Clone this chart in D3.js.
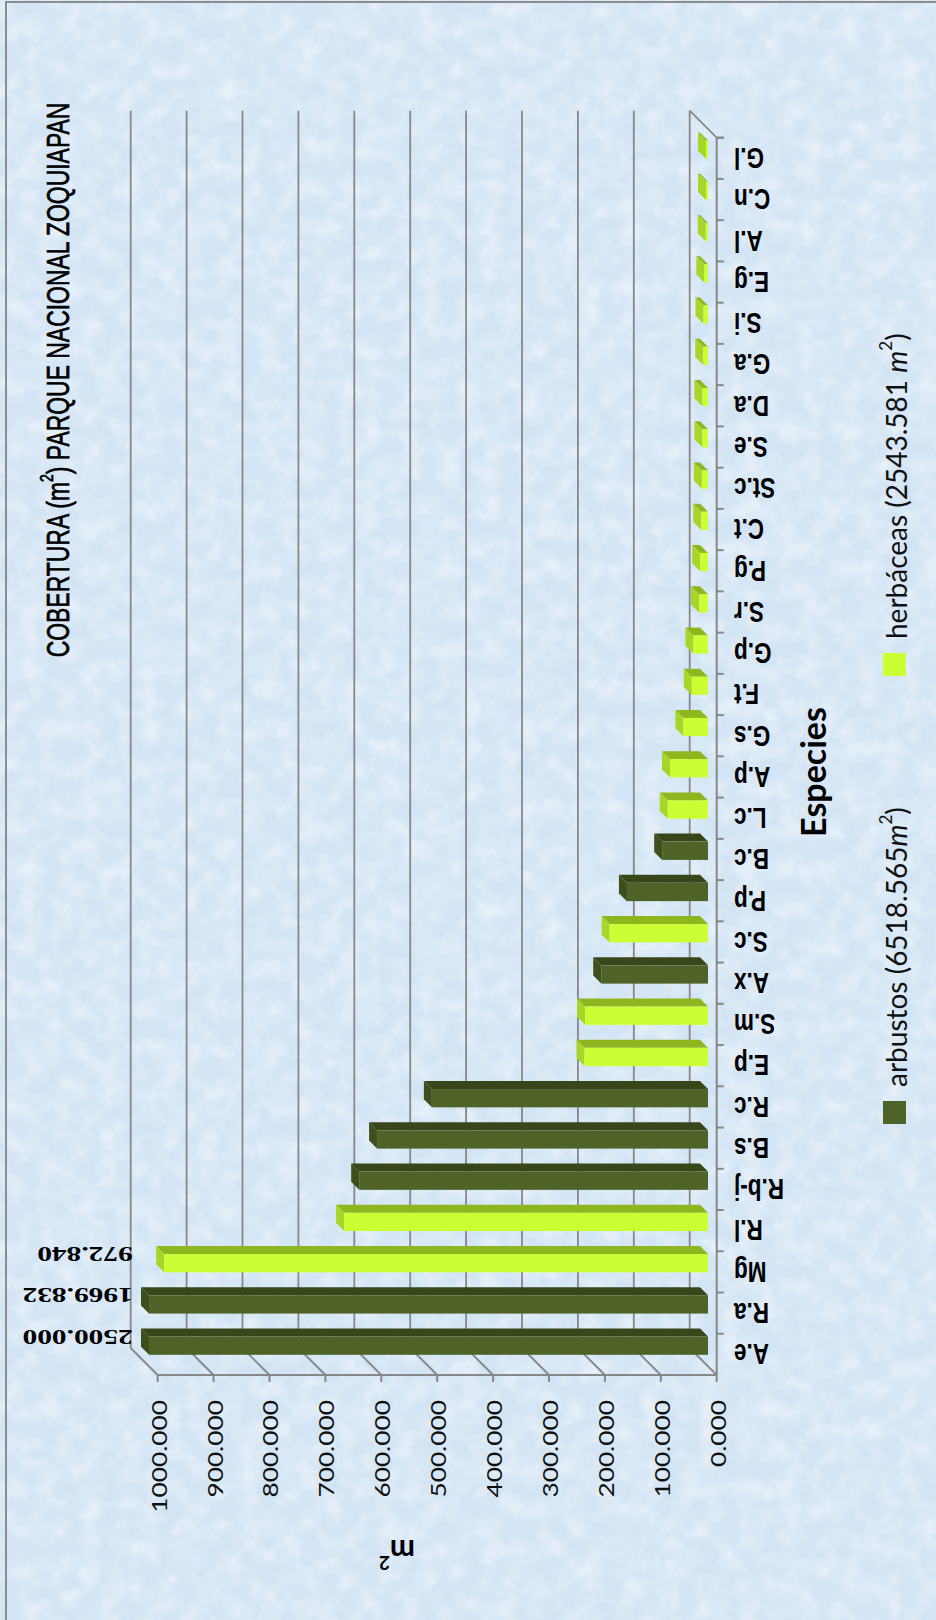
<!DOCTYPE html>
<html><head><meta charset="utf-8">
<script src="https://cdn.jsdelivr.net/npm/d3@7"></script>
<style>html,body{margin:0;padding:0;background:#fff}</style>
</head><body><svg id="chart" width="936" height="1620"></svg>
<script>
// ---- data (bottom → top in the picture = left → right in the original chart) ----
const categories = ["A.e","R.a","Mg","R.l","R.b-j","B.s","R.c","E.p","S.m","A.x","S.c","P.p","B.c","L.c","A.p","G.s","F.t","G.p","S.r","P.g","C.t","St.c","S.e","D.a","G.a","S.i","E.g","A.l","C.n","G.l"];
const arbustos  = [2500.000,1969.832,null,null,624,592,494,null,null,191,null,145,82,null,null,null,null,null,null,null,null,null,null,null,null,null,null,null,null,null];
const herbaceas = [null,null,972.840,651,null,null,null,221,220,null,176,null,null,72,68,44,29,26,16,14,12,11,10,10,8.5,8,6.5,4,3.5,3.5];
const seriesNames = ["arbustos","herbáceas"];
const seriesTotals = ["6518.565","2543.581"];
const valueTicks = [0,100,200,300,400,500,600,700,800,900,1000];
const labelled = ["A.e","R.a","Mg"];
const titleText = ["COBERTURA (m","2",") PARQUE NACIONAL ZOQUIAPAN"];

const svg = d3.select("#chart");
const W = 936, H = 1620;

// background texture
const defs = svg.append("defs");
const f = defs.append("filter").attr("id","tex").attr("x",0).attr("y",0).attr("width","100%").attr("height","100%");
f.append("feTurbulence").attr("type","fractalNoise").attr("baseFrequency","0.05").attr("numOctaves",3).attr("seed",11);
f.append("feColorMatrix").attr("type","matrix").attr("values","0 0 0 0 1  0 0 0 0 1  0 0 0 0 1  2.0 0 0 0 -0.7");
svg.append("rect").attr("width",W).attr("height",H).attr("fill","#d3e4f4");
svg.append("rect").attr("width",W).attr("height",H).attr("filter","url(#tex)").attr("opacity",0.45);
svg.append("rect").attr("x",6).attr("y",2).attr("width",W+20).attr("height",H+20)
   .attr("fill","none").attr("stroke","#8c8c8c").attr("stroke-width",2);

// ---- geometry ----
const D = 27;          // depth offset of walls
const S = 8.7;         // bar front plane offset from chart front
const BD = 8;          // bar depth
const front = {x0:716.7, x1:157.7, yTop:137.7, yBot:1375};
const x = d3.scaleLinear().domain([0,1000]).range([front.x0, front.x1]);
const y = d3.scaleBand().domain(categories).range([front.yBot, front.yTop]);
const barH = y.step()*0.443;
const gridCol = "#878787";
const narrow = "'Liberation Sans', Arial, sans-serif";

const g = svg.append("g");
// back wall gridlines
g.selectAll("line.grid").data(valueTicks).join("line")
  .attr("x1",d=>x(d)-D).attr("x2",d=>x(d)-D)
  .attr("y1",front.yTop-D).attr("y2",front.yBot-D)
  .attr("stroke",gridCol).attr("stroke-width",1.8);
// side wall diagonal gridlines
g.selectAll("line.side").data(valueTicks).join("line")
  .attr("x1",d=>x(d)-D).attr("x2",d=>x(d))
  .attr("y1",front.yBot-D).attr("y2",front.yBot)
  .attr("stroke",gridCol).attr("stroke-width",1.8);
// floor top edge
g.append("line").attr("x1",x(0)-D).attr("y1",front.yTop-D).attr("x2",x(0)).attr("y2",front.yTop)
  .attr("stroke",gridCol).attr("stroke-width",1.8);

// value axis (front)
g.append("line").attr("x1",x(0)).attr("x2",x(1000)).attr("y1",front.yBot).attr("y2",front.yBot)
  .attr("stroke",gridCol).attr("stroke-width",2);
g.selectAll("line.vt").data(valueTicks).join("line")
  .attr("x1",d=>x(d)).attr("x2",d=>x(d)).attr("y1",front.yBot).attr("y2",front.yBot+7)
  .attr("stroke",gridCol).attr("stroke-width",2);
g.selectAll("text.vt").data(valueTicks).join("text")
  .attr("transform",d=>`translate(${x(d)+1},1400) rotate(-90) scale(1.25,1)`)
  .attr("text-anchor","end").attr("dominant-baseline","central")
  .style("font-family","Lato, 'Open Sans', sans-serif").style("font-size","21px").attr("fill","#111")
  .text(d=>d3.format(".3f")(d));

// category axis (front)
g.append("line").attr("x1",x(0)).attr("x2",x(0)).attr("y1",front.yTop).attr("y2",front.yBot)
  .attr("stroke",gridCol).attr("stroke-width",2);
const bounds = categories.map(c=>y(c)).concat([front.yTop]);
g.selectAll("line.ct").data(bounds).join("line")
  .attr("x1",x(0)).attr("x2",x(0)+7).attr("y1",d=>d).attr("y2",d=>d)
  .attr("stroke",gridCol).attr("stroke-width",2);
g.selectAll("text.ct").data(categories).join("text")
  .attr("transform",c=>`translate(734,${y(c)+y.bandwidth()/2}) rotate(180) scale(0.75,1)`)
  .attr("text-anchor","end").attr("dominant-baseline","central")
  .style("font-family",narrow)
  .style("font-weight","bold").style("font-size","30px").attr("fill","#000")
  .text(c=>c);

// ---- bars ----
const colors = [
  {front:"#4f6228", top:"#384719", side:"#3e4f1d"},
  {front:"#ccff33", top:"#8fb51f", side:"#a9d42a"}
];
const bars = [];
categories.forEach((c,i)=>{
  if (arbustos[i]!=null) bars.push({c, v:arbustos[i], s:0});
  if (herbaceas[i]!=null) bars.push({c, v:herbaceas[i], s:1});
});
const bg = svg.append("g");
bars.forEach(b=>{
  const vv = Math.min(b.v, 1000);
  const xr = x(0)-S, xl = x(vv)-S;
  const yc = y(b.c)+y.bandwidth()/2 - S;
  const yt = yc-barH/2, yb = yc+barH/2;
  const col = colors[b.s];
  bg.append("polygon").attr("points",[[xl,yt],[xr,yt],[xr-BD,yt-BD],[xl-BD,yt-BD]].join(" ")).attr("fill",col.top);
  bg.append("polygon").attr("points",[[xl,yt],[xl,yb],[xl-BD,yb-BD],[xl-BD,yt-BD]].join(" ")).attr("fill",col.side);
  bg.append("rect").attr("x",xl).attr("y",yt).attr("width",xr-xl).attr("height",barH).attr("fill",col.front);
});

// data labels
const allVals = categories.map((c,i)=>arbustos[i]!=null?arbustos[i]:herbaceas[i]);
svg.selectAll("text.dl").data(labelled).join("text")
  .attr("transform",c=>`translate(${x(1000)-D+2},${y(c)+y.bandwidth()/2-S-BD-1}) rotate(180) scale(1.4,1)`)
  .attr("text-anchor","start").attr("dominant-baseline","central")
  .style("font-family","'Liberation Serif','Times New Roman',serif").style("font-weight","bold")
  .style("font-size","21px").attr("fill","#000")
  .text(c=>d3.format(".3f")(allVals[categories.indexOf(c)]));

// title
const t = svg.append("text").attr("transform","translate(58,380) rotate(-90) scale(0.74,1)")
  .attr("text-anchor","middle").attr("dominant-baseline","central")
  .style("font-family",narrow)
  .style("font-size","31px").attr("fill","#000")
  .attr("stroke","#000").attr("stroke-width",0.7);
t.append("tspan").text(titleText[0]);
t.append("tspan").attr("baseline-shift","super").style("font-size","19px").text(titleText[1]);
t.append("tspan").text(titleText[2]);

// axis titles
svg.append("text").attr("transform","translate(812,772) rotate(-90)")
  .attr("text-anchor","middle").attr("dominant-baseline","central")
  .style("font-family","Lato, sans-serif").style("font-weight","bold").style("font-size","34px")
  .text("Especies");
const mt = svg.append("text").attr("transform","translate(397,1552) rotate(180)")
  .attr("text-anchor","middle").attr("dominant-baseline","central")
  .style("font-family","Lato, sans-serif").style("font-weight","bold").style("font-size","30px");
mt.append("tspan").text("m");
mt.append("tspan").attr("baseline-shift","super").style("font-size","19px").text("2");

// legend
const legY = [1113, 665];
seriesNames.forEach((n,i)=>{
  svg.append("rect").attr("x",883).attr("y",legY[i]-12).attr("width",23).attr("height",23).attr("fill",colors[i].front);
  const lt = svg.append("text").attr("transform",`translate(896,${legY[i]-26}) rotate(-90)`)
    .attr("text-anchor","start").attr("dominant-baseline","central")
    .style("font-family","Lato, sans-serif").style("font-size","28px").attr("fill","#111");
  lt.append("tspan").text(n+" ("+seriesTotals[i]+(i===1?" ":""));
  lt.append("tspan").style("font-style","italic").text("m");
  lt.append("tspan").attr("baseline-shift","super").style("font-size","17px").text("2");
  lt.append("tspan").text(")");
});
</script></body></html>
